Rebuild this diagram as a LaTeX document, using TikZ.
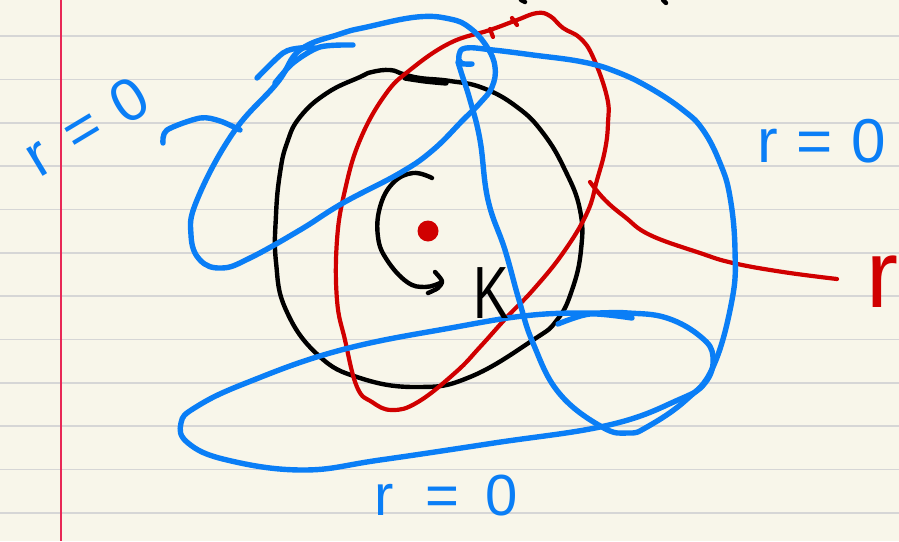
\documentclass[tikz,border=0pt]{standalone}
\usepackage{fontspec}
\setmainfont{Liberation Sans}
\definecolor{paper}{RGB}{248,246,234}
\definecolor{rule}{RGB}{214,214,214}
\definecolor{margin}{RGB}{232,40,86}
\definecolor{pen blue}{RGB}{10,126,246}
\definecolor{pen red}{RGB}{208,0,0}
\tikzset{
  bluepen/.style={draw=pen blue,line width=5.4pt,line cap=round,line join=round},
  redpen/.style={draw=pen red,line width=4.2pt,line cap=round,line join=round},
  blackpen/.style={draw=black,line width=4.4pt,line cap=round,line join=round},
  handtext/.style={inner sep=0pt,font=\fontsize{#1}{#1}\selectfont}
}
\begin{document}
\begin{tikzpicture}[x=1pt,y=-1pt]
\useasboundingbox (0,0) rectangle (899,541);
\fill[paper] (0,0) rectangle (899,541);
\foreach \k in {0,...,11}{
  \draw[rule,line width=1.6pt] (0,{36+43.35*\k}) -- (899,{36+43.35*\k});
}
\draw[margin,line width=1.3pt] (61,0) -- (61,541);

% black circle
\draw[blackpen] plot[smooth cycle,tension=0.75] coordinates {
 (360,77) (327,93) (300,117) (287,143) (280,173) (276,215) (276,262) (286,310)
 (318,355) (360,378) (418,387) (470,377) (533,340) (557,320) (572,290) (581,250)
 (580,210) (565,170) (543,133) (517,107) (483,88) (450,81) (420,78)
 (403,74) (390,70) (372,72)};
\draw[blackpen,line width=5.4pt] plot[smooth] coordinates {(405,78) (425,81) (446,83)};

% black rotation arrow
\draw[blackpen] plot[smooth,tension=0.7] coordinates {
 (432,178) (413,173) (393,183) (380,207) (378,237) (387,260) (407,282) (425,287) (440,283)};
\draw[blackpen] plot[smooth] coordinates {(435,272) (442,281) (438,288) (428,293)};

% top marks
\draw[blackpen] (521,0) -- (525,2);
\draw[blackpen] (663,0) -- (666,3);

% red loop
\draw[redpen] plot[smooth cycle,tension=0.7] coordinates {
 (605,150) (597,180) (587,213) (563,253) (533,290) (507,317) (480,347) (456,372)
 (418,402) (392,410) (372,402) (357,387) (345,340) (337,300) (337,240) (345,190)
 (360,140) (385,95) (410,70) (450,43) (490,30) (517,20) (537,13) (550,16)
 (563,28) (580,38) (593,57) (607,97) (608,123)};
\draw[redpen] (490,29) -- (493,37);
\draw[redpen] (512,18) -- (517,25);
\draw[redpen] plot[smooth,tension=0.7] coordinates {
 (590,182) (605,200) (625,217) (650,235) (700,253) (733,263) (783,272) (837,279)};
\fill[pen red] (428,231) circle (10.5);

% blue loop A (upper left)
\draw[bluepen] plot[smooth cycle,tension=0.7] coordinates {
 (197,200) (233,133) (277,83) (300,50) (340,34) (367,27) (417,17) (450,19)
 (470,28) (487,47) (495,67) (492,87) (480,103) (463,120) (433,150) (400,173)
 (343,203) (300,230) (250,258) (222,268) (200,260) (191,235)};
\draw[bluepen] plot[smooth] coordinates {(163,143) (167,130) (200,118) (220,121) (240,130)};
\draw[bluepen] plot[smooth] coordinates {(257,78) (283,53) (300,48) (315,48)};
\draw[bluepen] plot[smooth] coordinates {(275,83) (293,63) (320,47) (353,45)};

% blue loop B (right)
\draw[bluepen] plot[smooth,tension=0.7] coordinates {
 (472,64) (461,63) (459,55) (466,48) (493,50) (533,55) (583,62) (617,72) (650,88)
 (683,110) (703,130) (720,163) (730,197) (735,250) (732,300) (713,367) (686,400)
 (647,427) (628,433) (602,427) (559,393) (533,343) (519,300) (505,250) (488,200)
 (480,140) (470,100) (462,75) (458,62)};

% blue loop C (bottom)
\draw[bluepen] plot[smooth cycle,tension=0.7] coordinates {
 (598,313) (628,313) (667,318) (701,337) (713,357) (705,383) (678,400) (609,425)
 (494,443) (380,460) (303,470) (227,460) (188,443) (181,423) (196,407) (246,383)
 (341,350) (456,327) (533,315)};
\draw[bluepen] plot[smooth] coordinates {(558,324) (590,314) (632,318)};

% labels
\node[handtext=60,text=pen blue,rotate=31] (lbl left) at (86,126) {r\hspace{0.4em}=\hspace{0.35em}0};
\node[handtext=62,text=pen blue] (lbl right) at (822,141) {r\hspace{0.3em}=\hspace{0.3em}0};
\node[handtext=58,text=pen blue] (lbl bottom) at (446,496) {r\hspace{0.55em}=\hspace{0.45em}0};
\node[handtext=74,text=black,xscale=0.72,anchor=base] (lbl K) at (491,318) {K};
\node[handtext=96,text=pen red,anchor=base west] (lbl r) at (866,307) {r};
\end{tikzpicture}
\end{document}
